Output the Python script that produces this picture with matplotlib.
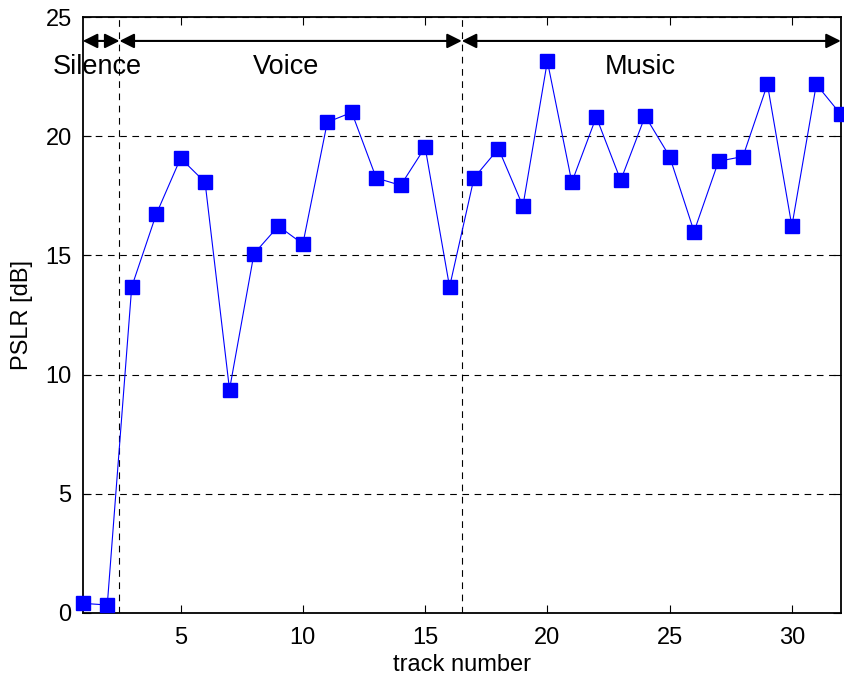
import matplotlib
matplotlib.use("Agg")
import matplotlib.pyplot as plt

plt.rcParams['font.family'] = ['Liberation Sans', 'DejaVu Sans']

# PSLR per track
tracks = list(range(1, 33))
pslr = [0.40, 0.33, 13.68, 16.72, 19.08, 18.07, 9.37, 15.07, 16.23, 15.48,
        20.59, 21.00, 18.25, 17.94, 19.54, 13.68, 18.25, 19.48, 17.07, 23.15,
        18.07, 20.81, 18.15, 20.85, 19.15, 16.00, 18.95, 19.15, 22.18, 16.23,
        22.18, 20.92]

# segment borders and labels
borders = [1, 2.5, 16.5, 32]
seg_names = ['Silence', 'Voice', 'Music']
seg_label_x = [1.6, 9.3, 23.8]

fig = plt.figure(figsize=(8.45, 6.84), dpi=100)
ax = fig.add_axes([0.098, 0.104, 0.897, 0.871])

ax.plot(tracks, pslr, color='blue', lw=0.8, marker='s', markersize=9.5,
        markerfacecolor='blue', markeredgecolor='blue', zorder=3,
        clip_on=False)

ax.set_xlim(1, 32)
ax.set_ylim(0, 25)
ax.set_xticks([5, 10, 15, 20, 25, 30])
ax.set_yticks([0, 5, 10, 15, 20, 25])
ax.yaxis.grid(True, color='black', ls=(0, (6, 5)), lw=0.8)
ax.set_axisbelow(True)

# vertical segment separators
for b in borders[1:-1]:
    ax.axvline(b, color='black', ls=(0, (6, 5)), lw=0.8, zorder=1)

# arrows and labels
for i in range(3):
    ax.annotate('', xy=(borders[i], 24), xytext=(borders[i + 1], 24),
                arrowprops=dict(arrowstyle='<|-|>', color='black', lw=1.5,
                                mutation_scale=22, shrinkA=0, shrinkB=0))
    ax.text(seg_label_x[i], 22.9, seg_names[i], ha='center', va='center',
            fontsize=19.5, clip_on=False)

ax.tick_params(direction='in', top=True, right=True, labelsize=17,
               length=6, width=0.8)
ax.tick_params(axis='x', pad=10)
ax.tick_params(axis='y', pad=8)
for s in ax.spines.values():
    s.set_linewidth(1.3)

ax.set_xlabel('track number', fontsize=17, labelpad=4)
ax.set_ylabel('PSLR [dB]', fontsize=17, labelpad=9)

fig.savefig('out.png', dpi=100)
